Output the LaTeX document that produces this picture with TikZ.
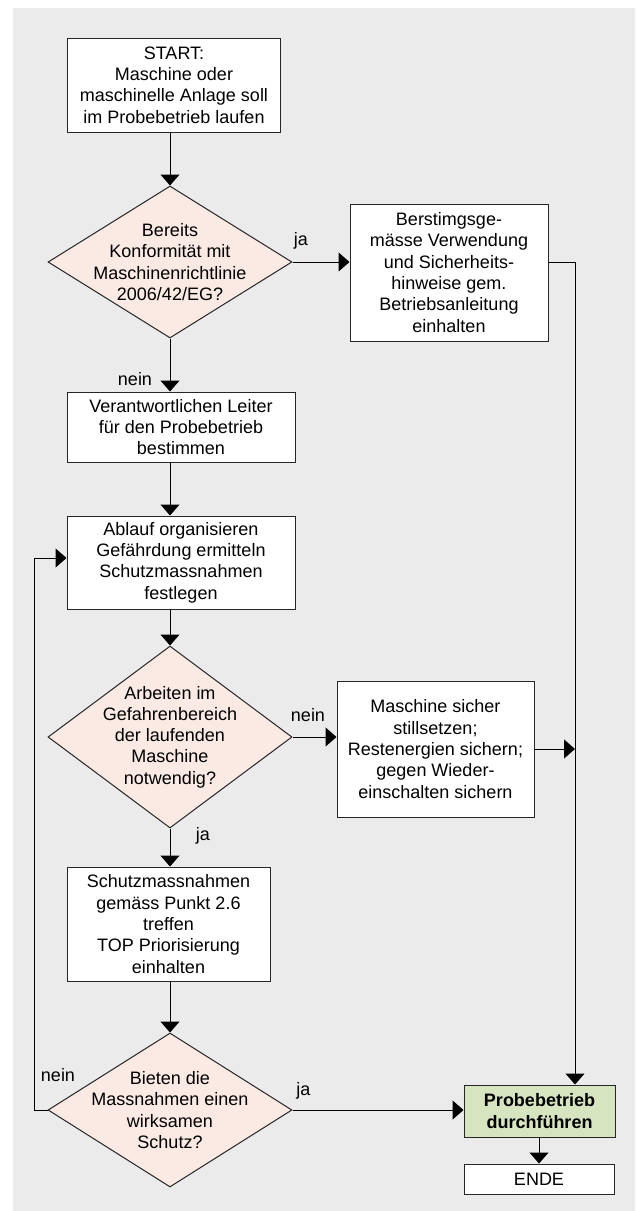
\documentclass[tikz,border=0pt]{standalone}
\usepackage{fontspec}
\setmainfont{Liberation Sans}
\usepackage{tikz}
\usetikzlibrary{shapes.geometric,arrows.meta}
\definecolor{panelGray}{RGB}{235,235,235}
\definecolor{decisionPink}{RGB}{250,234,227}
\definecolor{doneGreen}{RGB}{215,228,192}
\newcommand{\flowFont}[0]{\fontsize{18}{21.3}\selectfont}

\begin{document}
\begin{tikzpicture}[x=1pt, y=-1pt, font=\flowFont, line width=1pt]
  \tikzset{flowBox/.style={draw=black!85, fill=white, align=center, inner sep=0pt},
    flowDecision/.style={draw=black!85, fill=decisionPink, shape=diamond, inner sep=0pt, minimum width=244pt},
    flowNote/.style={align=center},
    flowArrow/.style={-{Triangle[length=11pt,width=19pt]}}}
  \useasboundingbox (0,0) rectangle (635,1211);
  \fill[panelGray] (13,8) rectangle (635,1211);

  \node[flowBox, minimum width=213pt, minimum height=94pt] (start) at (174,85)
    {START:\\Maschine oder\\maschinelle Anlage soll\\im Probebetrieb laufen};
  \node[flowDecision, minimum height=152pt,
    label={[flowNote]center:{Bereits\\Konformität mit\\Maschinenrichtlinie\\2006/42/EG?}}] (d1) at (170,262) {};
  \node[flowBox, minimum width=198pt, minimum height=137pt] (bst) at (449,272.5)
    {Berstimgsge-\\mässe Verwendung\\und Sicherheits-\\hinweise gem.\\Betriebsanleitung\\einhalten};
  \node[flowBox, minimum width=228pt, minimum height=70pt] (ver) at (181,427)
    {Verantwortlichen Leiter\\für den Probebetrieb\\bestimmen};
  \node[flowBox, minimum width=228pt, minimum height=93pt] (abl) at (181,562.5)
    {Ablauf organisieren\\Gefährdung ermitteln\\Schutzmassnahmen\\festlegen};
  \node[flowDecision, minimum height=182pt,
    label={[flowNote]center:{Arbeiten im\\Gefahrenbereich\\der laufenden\\Maschine\\notwendig?}}] (d2) at (170,737) {};
  \node[flowBox, minimum width=197pt, minimum height=136pt] (msb) at (435.5,749)
    {Maschine sicher\\stillsetzen;\\Restenergien sichern;\\gegen Wieder-\\einschalten sichern};
  \node[flowBox, minimum width=203pt, minimum height=114pt] (sch) at (168.5,924)
    {Schutzmassnahmen\\gemäss Punkt 2.6\\treffen\\TOP Priorisierung\\einhalten};
  \node[flowDecision, minimum height=154pt,
    label={[flowNote]center:{Bieten die\\Massnahmen einen\\wirksamen\\Schutz?}}] (d3) at (170,1110) {};
  \node[flowBox, fill=doneGreen, font=\flowFont\bfseries, minimum width=151pt, minimum height=52pt] (pb) at (539.5,1111)
    {Probebetrieb\\durchführen};
  \node[flowBox, minimum width=150pt, minimum height=30pt] (ende) at (539,1179) {ENDE};

  \node[anchor=base] (jaKonform) at (301,245) {ja};
  \node[anchor=base] (neinKonform) at (135,385) {nein};
  \node[anchor=base] (neinGefahr) at (308,721) {nein};
  \node[anchor=base] (jaGefahr) at (203,840) {ja};
  \node[anchor=base] (neinSchutz) at (58,1081) {nein};
  \node[anchor=base] (jaSchutz) at (303.5,1095) {ja};

  \coordinate (rail) at (575,262);
  \coordinate (loop) at (34,558);

  \draw[flowArrow] (start.south -| d1.north) -- (d1.north);
  \draw[flowArrow] (d1.east) -- (d1.east -| bst.west);
  \draw[flowArrow] (d1.south) -- (d1.south |- ver.north);
  \draw[flowArrow] (ver.south -| d1.south) -- (abl.north -| d1.south);
  \draw[flowArrow] (abl.south -| d2.north) -- (d2.north);
  \draw[flowArrow] (d2.east) -- (d2.east -| msb.west);
  \draw[flowArrow] (d2.south) -- (d2.south |- sch.north);
  \draw[flowArrow] (sch.south -| d3.north) -- (d3.north);
  \draw[flowArrow] (d3.east) -- (d3.east -| pb.west);
  \draw[flowArrow] (bst.east |- rail) -- (rail) -- (rail |- pb.north);
  \draw[flowArrow] (msb.east) -- (msb.east -| rail);
  \draw[flowArrow] (d3.west) -- (d3.west -| loop) -- (loop) -- (loop -| abl.west);
  \draw[flowArrow] (pb.south -| ende.north) -- (ende.north);
\end{tikzpicture}
\end{document}
